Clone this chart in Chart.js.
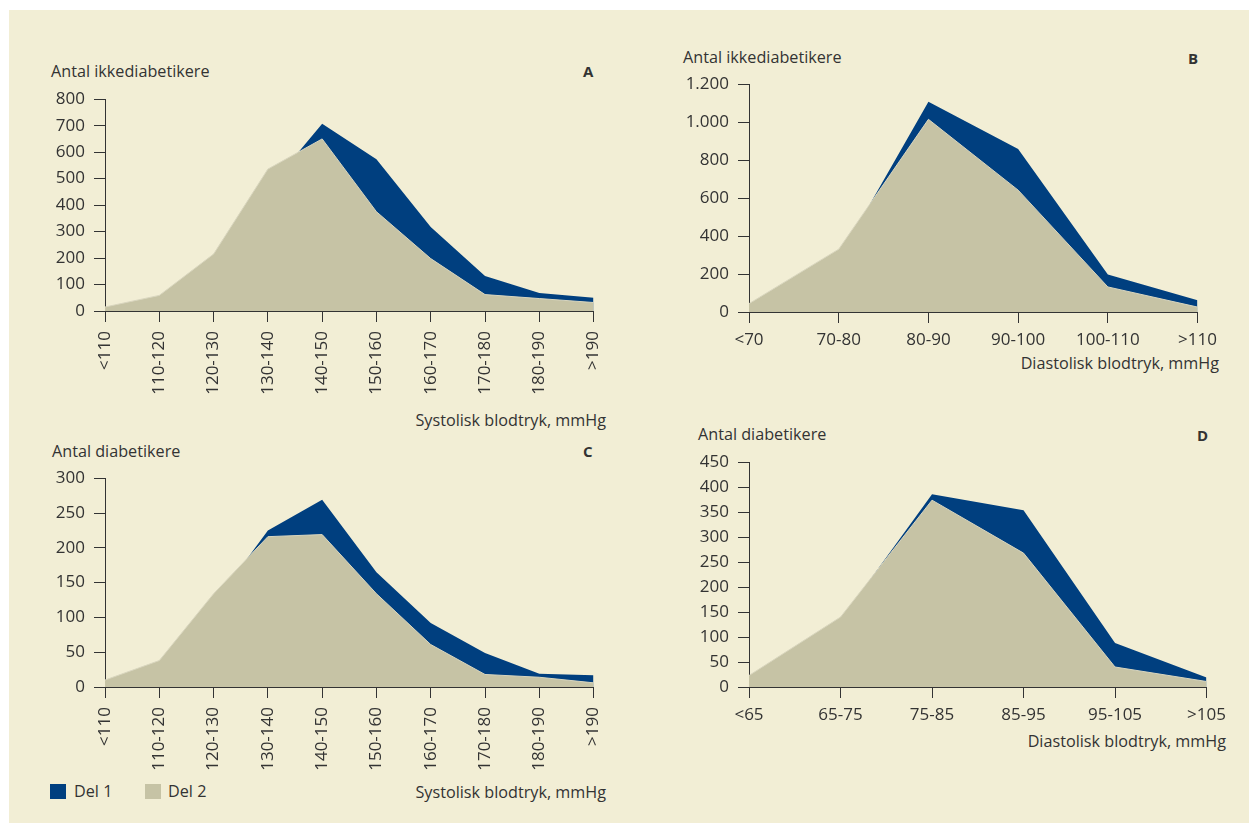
<!DOCTYPE html>
<html>
<head>
<meta charset="utf-8">
<script src="https://cdn.jsdelivr.net/npm/chart.js@4"></script>
<style>
  html, body { margin: 0; padding: 0; background: #ffffff; }
  body { width: 1249px; height: 823px; position: relative; overflow: hidden; font-family: 'Open Sans', sans-serif; color: #333; }
  #panel { position: absolute; left: 9px; top: 10px; right: 0; bottom: 0; background: #f2eed5; }
  .txt { position: absolute; font-size: 16.2px; line-height: 20px; white-space: nowrap; color: #333; }
  .letter { font-weight: bold; font-size: 15px; }
  .right { text-align: right; }
  canvas { position: absolute; }
  .box { position: absolute; width: 16px; height: 15px; }
</style>
</head>
<body>
<div id="panel"></div>

<div class="txt" style="left:51px; top:61px;">Antal ikkediabetikere</div>
<div class="txt letter" style="left:583px; top:61px;">A</div>
<div class="txt right" style="right:643px; top:410px;">Systolisk blodtryk, mmHg</div>

<div class="txt" style="left:683px; top:47px;">Antal ikkediabetikere</div>
<div class="txt letter" style="left:1188px; top:48px;">B</div>
<div class="txt right" style="right:30px; top:353px;">Diastolisk blodtryk, mmHg</div>

<div class="txt" style="left:52px; top:441px;">Antal diabetikere</div>
<div class="txt letter" style="left:583px; top:441px;">C</div>
<div class="txt right" style="right:643px; top:782px;">Systolisk blodtryk, mmHg</div>

<div class="txt" style="left:698px; top:424px;">Antal diabetikere</div>
<div class="txt letter" style="left:1197px; top:425px;">D</div>
<div class="txt right" style="right:23px; top:731px;">Diastolisk blodtryk, mmHg</div>

<div class="box" style="left:50px; top:784px; background:#003f7f;"></div>
<div class="txt" style="left:74px; top:781px;">Del 1</div>
<div class="box" style="left:145px; top:784px; background:#c6c3a5;"></div>
<div class="txt" style="left:168px; top:781px;">Del 2</div>

<canvas id="chartA"></canvas>
<canvas id="chartB"></canvas>
<canvas id="chartC"></canvas>
<canvas id="chartD"></canvas>

<script>
// Category labels
const sysLabels = ['<110', '110-120', '120-130', '130-140', '140-150', '150-160', '160-170', '170-180', '180-190', '>190'];
const diaLabelsB = ['<70', '70-80', '80-90', '90-100', '100-110', '>110'];
const diaLabelsD = ['<65', '65-75', '75-85', '85-95', '95-105', '>105'];

// A: ikkediabetikere, systolisk
const aDel1 = [10, 45, 175, 462, 707, 573, 317, 132, 68, 50];
const aDel2 = [15, 59, 215, 536, 650, 375, 198, 62, 47, 32];
// B: ikkediabetikere, diastolisk
const bDel1 = [35, 280, 1107, 859, 197, 62];
const bDel2 = [44, 331, 1015, 642, 132, 26];
// C: diabetikere, systolisk
const cDel1 = [7, 30, 119, 225, 269, 165, 92, 49, 19, 17];
const cDel2 = [10, 38, 134, 216, 219, 134, 61, 18, 14, 6];
// D: diabetikere, diastolisk
const dDel1 = [18, 133, 386, 354, 88, 19];
const dDel2 = [23, 140, 374, 268, 40, 11];

const BLUE = '#003f7f';
const GREY = '#c6c3a5';
const INK = '#333333';
const FONT = "'Open Sans', sans-serif";

const Y_W = 62;   // space for y axis
const X_H = 100;  // space for x axis
const PAD_R = 26;

function fmtDa(v) {
    return String(v).replace(/\B(?=(\d{3})+(?!\d))/g, '.');
}

function buildConfig(labels, del1, del2, yMax, yStep, rotate) {
    return {
        type: 'line',
        data: {
            labels: labels,
            datasets: [
                {
                    label: 'Del 1',
                    data: del1,
                    backgroundColor: BLUE,
                    borderWidth: 0,
                    pointRadius: 0,
                    fill: 'origin',
                    order: 2
                },
                {
                    label: 'Del 2',
                    data: del2,
                    backgroundColor: GREY,
                    borderColor: '#d9d6bf',
                    borderWidth: 1,
                    pointRadius: 0,
                    fill: 'origin',
                    order: 1
                }
            ]
        },
        options: {
            responsive: false,
            maintainAspectRatio: false,
            animation: false,
            devicePixelRatio: 1,
            layout: { padding: { top: 0, right: PAD_R, left: 0, bottom: 0 } },
            plugins: {
                legend: { display: false },
                tooltip: { enabled: false }
            },
            scales: {
                x: {
                    offset: false,
                    afterFit: function(scale) { scale.height = X_H; },
                    border: { display: true, color: INK, width: 1 },
                    grid: { drawOnChartArea: false, drawTicks: true, tickLength: 11, color: INK },
                    ticks: {
                        color: INK,
                        font: { family: FONT, size: 17 },
                        padding: rotate ? 9 : 7,
                        autoSkip: false,
                        minRotation: rotate ? 90 : 0,
                        maxRotation: rotate ? 90 : 0
                    }
                },
                y: {
                    min: 0,
                    max: yMax,
                    afterFit: function(scale) { scale.width = Y_W; },
                    border: { display: true, color: INK, width: 1 },
                    grid: { drawOnChartArea: false, drawTicks: true, tickLength: 11, color: INK },
                    ticks: {
                        stepSize: yStep,
                        color: INK,
                        font: { family: FONT, size: 17 },
                        padding: 9,
                        callback: function(v) { return fmtDa(v); }
                    }
                }
            }
        }
    };
}

function sizeCanvas(canvas, w, h) {
    canvas.width = w;
    canvas.height = h;
    canvas.style.width = w + 'px';
    canvas.style.height = h + 'px';
}

function makeChart(id, plot, labels, del1, del2, yMax, yStep, rotate) {
    const canvas = document.getElementById(id);
    const plotW = plot.right - plot.left;
    const plotH = plot.bottom - plot.top;
    let w = plotW + Y_W + PAD_R;
    let h = plotH + 20 + X_H;
    sizeCanvas(canvas, w, h);

    // first pass: measure where the plot area ends up, then redo at the right size
    let chart = new Chart(canvas, buildConfig(labels, del1, del2, yMax, yStep, rotate));
    const a = chart.chartArea;
    const extraW = (a.right - a.left) - plotW;
    const extraH = (a.bottom - a.top) - plotH;
    chart.destroy();

    w -= extraW;
    h -= extraH;
    sizeCanvas(canvas, w, h);
    chart = new Chart(canvas, buildConfig(labels, del1, del2, yMax, yStep, rotate));
    const a2 = chart.chartArea;
    canvas.style.left = (plot.left - a2.left) + 'px';
    canvas.style.top = (plot.top - a2.top) + 'px';
    return chart;
}

makeChart('chartA', { left: 105, right: 594, top: 99, bottom: 311 }, sysLabels, aDel1, aDel2, 800, 100, true);
makeChart('chartB', { left: 749, right: 1198, top: 84, bottom: 312 }, diaLabelsB, bDel1, bDel2, 1200, 200, false);
makeChart('chartC', { left: 105, right: 594, top: 478, bottom: 687 }, sysLabels, cDel1, cDel2, 300, 50, true);
makeChart('chartD', { left: 749, right: 1207, top: 462, bottom: 687 }, diaLabelsD, dDel1, dDel2, 450, 50, false);
</script>
</body>
</html>
